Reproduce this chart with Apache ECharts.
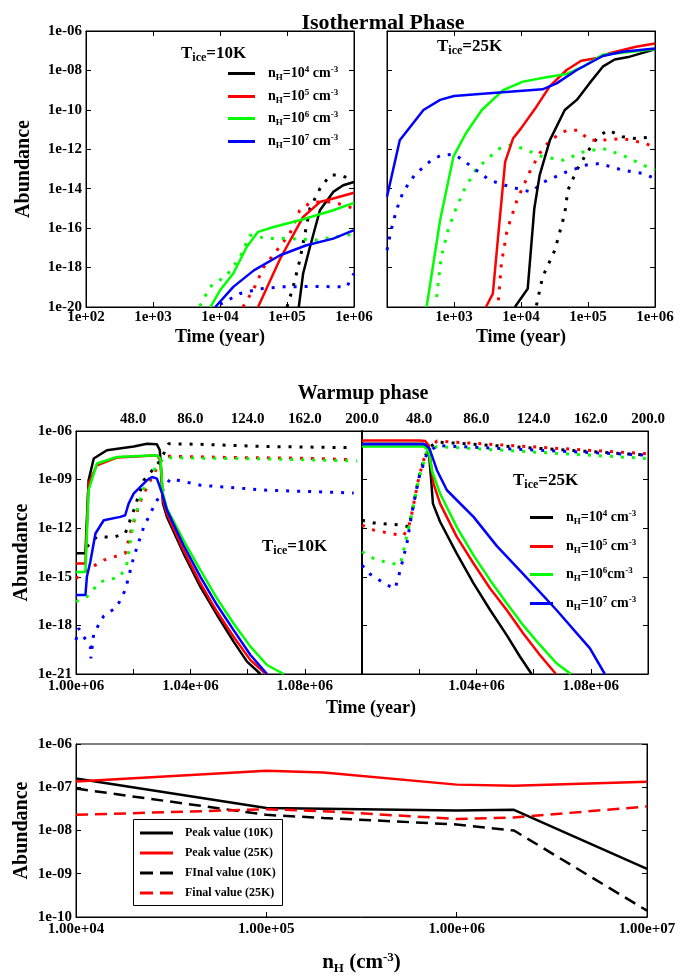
<!DOCTYPE html>
<html>
<head>
<meta charset="utf-8">
<title>Abundance</title>
<script src="https://cdn.jsdelivr.net/npm/echarts@6/dist/echarts.min.js"></script>
<style>
html, body { margin: 0; padding: 0; background: #fff; }
#main { width: 680px; height: 980px; }
</style>
</head>
<body>
<div id="main"></div>
<script type="text/javascript">
"use strict";

// isothermal phase, T_ice = 10K  [time (yr), abundance]
var iso10n4 = [[1.5e5,1e-20],[1.74e5,5e-19],[2.2e5,1.1e-17],[3.1e5,8.1e-16],[4.9e5,6.9e-15],[6.9e5,1.5e-14],[1e6,2.2e-14]];
var iso10n5 = [[3.7e4,1e-20],[7.9e4,2.8e-18],[1.74e5,3.7e-16],[3.1e5,2.1e-15],[4.9e5,3.2e-15],[1e6,6.2e-15]];
var iso10n6 = [[7.2e3,1e-20],[1e4,7e-20],[1.58e4,5e-19],[2.5e4,1.1e-17],[3.7e4,6.5e-17],[6.3e4,1.15e-16],[1.55e5,2.5e-16],[4.9e5,8.1e-16],[1e6,1.9e-15]];
var iso10n7 = [[8.5e3,1e-20],[1.58e4,1.05e-19],[3.2e4,7.2e-19],[7.9e4,4.2e-18],[1.95e5,1.35e-17],[4.9e5,2.95e-17],[1e6,7.9e-17]];
var iso10n4d = [[1e5,1e-20],[1.23e5,1e-19],[1.55e5,2.3e-18],[2.2e5,1e-15],[3.1e5,1e-14],[4.4e5,4.9e-14],[6.2e5,4.9e-14],[1e6,2.7e-14]];
var iso10n5d = [[2.2e4,1e-20],[3.2e4,8.5e-20],[4.5e4,1.07e-18],[7.1e4,7.6e-18],[1.1e5,5.2e-17],[1.55e5,8.1e-16],[2.3e5,2.1e-15],[4.9e5,2.1e-15],[1e6,1e-15]];
var iso10n6d = [[5e3,1.1e-20],[7.1e3,1.05e-19],[1.26e4,4e-19],[2e4,3.5e-18],[2.8e4,4.4e-17],[5e4,3e-17],[1e5,3e-17],[2.75e5,2.5e-17],[1e6,5e-17]];
var iso10n7d = [[1e4,1.35e-20],[2e4,4.8e-20],[4e4,8.5e-20],[8.9e4,1.05e-19],[2.75e5,1.1e-19],[7.8e5,1.05e-19],[1e6,5e-19]];

// isothermal phase, T_ice = 25K
var iso25n4 = [[8.1e3,1e-20],[1.26e4,8.5e-20],[1.58e4,1e-15],[1.9e4,4.9e-14],[2.7e4,2.9e-12],[4.5e4,9.8e-11],[6.8e4,3.2e-10],[1.05e5,2.2e-9],[1.66e5,1.55e-8],[2.5e5,3.6e-8],[4.2e5,5e-8],[1e6,1.17e-7]];
var iso25n5 = [[3e3,1e-20],[3.8e3,4.8e-20],[4.6e3,5.4e-17],[5.8e3,2.3e-13],[7.6e3,3.5e-12],[1e4,1.15e-11],[1.7e4,1.45e-10],[2.7e4,1.6e-9],[4.8e4,1.05e-8],[7.9e4,3.1e-8],[1.32e5,4.1e-8],[2.1e5,7.4e-8],[5.2e5,1.6e-7],[1e6,2.3e-7]];
var iso25n6 = [[390,1e-20],[620,2.5e-16],[980,4.2e-13],[1.5e3,6.3e-12],[2.6e3,9.8e-11],[5.4e3,1e-9],[1.07e4,2.7e-9],[2.4e4,4.5e-9],[4.8e4,6.6e-9],[8.5e4,1.55e-8],[1.66e5,6.2e-8],[1e6,1.17e-7]];
var iso25n7 = [[100,3.9e-15],[155,2.9e-12],[350,9.8e-11],[620,3.2e-10],[1e3,5e-10],[3e3,6.8e-10],[2.1e4,1.1e-9],[3.4e4,2.2e-9],[6.8e4,1.05e-8],[1.66e5,5.4e-8],[3.3e5,8.9e-8],[1e6,1.3e-7]];
var iso25n4d = [[1.7e4,1.2e-20],[2.1e4,3.3e-19],[3.2e4,7.6e-18],[4.5e4,5.5e-16],[5e4,8.3e-15],[6.8e4,8.7e-14],[9.5e4,6.2e-13],[1.4e5,4.3e-12],[2e5,9.3e-12],[3.3e5,4.3e-12],[5.2e5,3.5e-12],[1e6,4.3e-12]];
var iso25n5d = [[4.6e3,2.2e-20],[5.1e3,1.6e-18],[6.2e3,7.8e-17],[8.7e3,2.6e-15],[1.35e4,7.2e-14],[1.9e4,6.2e-13],[2.7e4,2.9e-12],[4.8e4,9.3e-12],[7.1e4,9.3e-12],[1.05e5,2.9e-12],[1.66e5,2.9e-12],[3.3e5,3.5e-12],[7.4e5,1.95e-12],[1e6,1.1e-12]];
var iso25n6d = [[550,3.2e-20],[646,3.5e-18],[813,7.8e-17],[1.07e3,1e-15],[1.45e3,1e-14],[2.1e3,8.7e-14],[3e3,2.8e-13],[4.8e3,1.1e-12],[6.8e3,1.6e-12],[1.07e4,1.1e-12],[2.1e4,4.2e-13],[4.3e4,2.8e-13],[8.5e4,7.4e-13],[1.66e5,1.1e-12],[3.3e5,5e-13],[6.6e5,1.6e-13],[1e6,8.7e-14]];
var iso25n7d = [[100,7.6e-18],[115,7.8e-17],[138,8.1e-16],[174,6.9e-15],[257,4.9e-14],[457,2.8e-13],[646,5e-13],[1.02e3,5.6e-13],[1.7e3,1.6e-13],[3.4e3,2.7e-14],[6.8e3,1.26e-14],[1.4e4,6.9e-15],[2.2e4,2.2e-14],[4.8e4,7.2e-14],[9.5e4,1.6e-13],[1.48e5,1.9e-13],[3.3e5,8.7e-14],[6.6e5,5.9e-14],[1e6,3.3e-14]];

// warmup phase, T_ice = 10K
var wu10n4 = [[1e6,2.8e-14],[1.0033e6,2.8e-14],[1.0044e6,9e-10],[1.0062e6,2e-8],[1.0108e6,6.5e-8],[1.0202e6,1.1e-7],[1.0248e6,1.65e-7],[1.0283e6,1.5e-7],[1.0293e6,6.5e-8],[1.0297e6,6e-9],[1.0304e6,3.3e-11],[1.0318e6,5e-12],[1.0376e6,2.8e-14],[1.0435e6,2.4e-16],[1.0493e6,4.4e-18],[1.0551e6,1e-19],[1.0598e6,5.8e-21],[1.0645e6,1e-21]];
var wu10n5 = [[1e6,6.6e-15],[1.0033e6,6.6e-15],[1.0044e6,5.6e-10],[1.0073e6,7.6e-9],[1.0143e6,2.3e-8],[1.0225e6,2.75e-8],[1.0283e6,3.2e-8],[1.0295e6,1.55e-8],[1.0304e6,5.4e-11],[1.0318e6,7.9e-12],[1.0376e6,4.4e-14],[1.0435e6,3.9e-16],[1.0493e6,6.9e-18],[1.0551e6,2e-19],[1.061e6,7.2e-21],[1.0664e6,1e-21]];
var wu10n6 = [[1e6,2e-15],[1.0033e6,2e-15],[1.0044e6,2.2e-10],[1.0073e6,9.8e-9],[1.0143e6,2.5e-8],[1.0283e6,3.2e-8],[1.0295e6,1.95e-8],[1.0304e6,1.4e-10],[1.0318e6,1.6e-11],[1.0376e6,1.8e-13],[1.0435e6,2.6e-15],[1.0493e6,4.7e-17],[1.0551e6,1.3e-18],[1.061e6,4.9e-20],[1.0668e6,3.6e-21],[1.0726e6,1e-21]];
var wu10n7 = [[1e6,7.4e-17],[1.0033e6,7.4e-17],[1.0038e6,1e-15],[1.005e6,8.3e-15],[1.0068e6,4.7e-13],[1.0097e6,3.1e-12],[1.0155e6,5e-12],[1.0172e6,6.3e-12],[1.0184e6,3.3e-11],[1.0202e6,1.4e-10],[1.0248e6,9.1e-10],[1.0266e6,1.45e-9],[1.0283e6,1.15e-9],[1.0301e6,1.4e-10],[1.0318e6,1.3e-11],[1.0376e6,8.9e-14],[1.0435e6,1e-15],[1.0493e6,1.8e-17],[1.0551e6,5.1e-19],[1.061e6,1.5e-20],[1.0668e6,1e-21]];
var wu10n4d = [[1.0038e6,7.1e-14],[1.0073e6,3e-13],[1.0132e6,2.8e-13],[1.0172e6,4.7e-13],[1.0202e6,1.3e-11],[1.0237e6,9.1e-10],[1.0277e6,6e-9],[1.0295e6,1.55e-8],[1.0324e6,1.65e-7],[1.0435e6,1.5e-7],[1.0668e6,1.1e-7],[1.0971e6,9.3e-8]];
var wu10n5d = [[1e6,7.9e-16],[1.0038e6,2.6e-15],[1.0097e6,1.07e-14],[1.0172e6,2.8e-14],[1.0196e6,1.2e-12],[1.0231e6,8.5e-11],[1.0272e6,2.3e-9],[1.0307e6,2.75e-8],[1.0341e6,2.75e-8],[1.0551e6,2.3e-8],[1.0784e6,2.1e-8],[1.0971e6,1.7e-8]];
var wu10n6d = [[1e6,2.9e-17],[1.0038e6,5.9e-17],[1.0085e6,4.9e-16],[1.0155e6,1e-15],[1.0178e6,6.6e-15],[1.0202e6,3.1e-12],[1.0237e6,2.8e-10],[1.0272e6,3.8e-9],[1.0307e6,2.3e-8],[1.0435e6,2.1e-8],[1.0668e6,1.9e-8],[1.0983e6,1.4e-8]];
var wu10n7d = [[1e6,1.26e-19],[1.0009e6,6.6e-19],[1.0027e6,2e-19],[1.005e6,4.9e-20],[1.0052e6,9.3e-21],[1.0062e6,3.2e-19],[1.0097e6,3.8e-18],[1.0143e6,1.4e-17],[1.0172e6,1.5e-16],[1.0202e6,1.7e-14],[1.0237e6,1.2e-12],[1.0277e6,3.3e-11],[1.0307e6,2.8e-10],[1.033e6,1.15e-9],[1.0435e6,4.5e-10],[1.0668e6,2.2e-10],[1.0971e6,1.5e-10]];

// warmup phase, T_ice = 25K
var wu25n4 = [[1e6,1.65e-7],[1.0215e6,1.65e-7],[1.0233e6,6.5e-8],[1.0241e6,1.45e-9],[1.0248e6,3.3e-11],[1.0273e6,2.5e-12],[1.0331e6,2.8e-14],[1.039e6,3.9e-16],[1.0448e6,8.9e-18],[1.0506e6,2.5e-19],[1.0552e6,1.2e-20],[1.0593e6,1e-21]];
var wu25n5 = [[1e6,2.6e-7],[1.0203e6,2.6e-7],[1.0221e6,2.4e-7],[1.0233e6,1.3e-7],[1.0238e6,2.5e-8],[1.025e6,5.6e-10],[1.0273e6,3.3e-11],[1.0331e6,3e-13],[1.039e6,6.6e-15],[1.0448e6,1.9e-16],[1.0506e6,8.9e-18],[1.0564e6,3.2e-19],[1.0622e6,1.5e-20],[1.0678e6,1e-21]];
var wu25n6 = [[1e6,1.1e-7],[1.0215e6,1.1e-7],[1.0233e6,6.5e-8],[1.0244e6,3.8e-9],[1.0273e6,1.4e-10],[1.0331e6,1.2e-12],[1.039e6,2.1e-14],[1.0448e6,6.2e-16],[1.0506e6,2.3e-17],[1.0564e6,1e-18],[1.0622e6,6.2e-20],[1.068e6,4.6e-21],[1.073e6,1e-21]];
var wu25n7 = [[1e6,1.5e-7],[1.0221e6,1.5e-7],[1.0236e6,8.1e-8],[1.0262e6,3.8e-9],[1.0297e6,2.2e-10],[1.039e6,5e-12],[1.0471e6,8.1e-14],[1.0564e6,1.45e-15],[1.068e6,8.9e-18],[1.0797e6,3.8e-20],[1.0849e6,1e-21]];
var wu25n4d = [[1e6,3.1e-12],[1.0041e6,2.1e-12],[1.0145e6,1.55e-12],[1.0163e6,1.2e-12],[1.0174e6,7.9e-12],[1.0198e6,1.15e-9],[1.0215e6,1.55e-8],[1.0233e6,9.3e-8],[1.0262e6,2.1e-7],[1.1e6,3.2e-8]];
var wu25n5d = [[1e6,1.55e-12],[1.0041e6,7.6e-13],[1.0145e6,3.4e-13],[1.0163e6,1.2e-12],[1.0174e6,7.9e-12],[1.0198e6,1.15e-9],[1.0215e6,1.55e-8],[1.0233e6,8.1e-8],[1.0262e6,2.4e-7],[1.1e6,3.9e-8]];
var wu25n6d = [[1e6,3.5e-14],[1.0041e6,1.35e-14],[1.0099e6,6.6e-15],[1.0134e6,6e-15],[1.0151e6,1.15e-13],[1.0174e6,7.9e-12],[1.0198e6,1.15e-9],[1.0227e6,5.1e-8],[1.0262e6,1.1e-7],[1.1e6,2e-8]];
var wu25n7d = [[1e6,5.2e-15],[1.0029e6,1.45e-15],[1.0087e6,3.1e-16],[1.0116e6,1.9e-16],[1.0134e6,2.6e-15],[1.0157e6,1.15e-13],[1.0174e6,7.9e-12],[1.0198e6,1.15e-9],[1.0227e6,4e-8],[1.0262e6,1.26e-7],[1.1e6,3.2e-8]];

// peak / final values against density
var nH = [1e4, 1e5, 2e5, 1e6, 2e6, 1e7];
var peak10 = [1.6e-7, 3.3e-8, 3.2e-8, 2.9e-8, 3e-8, 1.3e-9];
var peak25 = [1.36e-7, 2.4e-7, 2.2e-7, 1.15e-7, 1.08e-7, 1.34e-7];
var final10 = [9.3e-8, 2.3e-8, 1.95e-8, 1.38e-8, 1e-8, 1.4e-10];
var final25 = [2.3e-8, 3.1e-8, 2.8e-8, 1.85e-8, 2e-8, 3.6e-8];

var tempTicks = [10, 48, 86, 124, 162, 200];
// warmup y range as powers of ten (1e-21 .. 1e-06, a label every 3 decades)
var warmExp = [-21, -6];

var FONT = 'Liberation Serif';
var BLACK = '#000000', RED = '#ff0000', GREEN = '#00ff00', BLUE = '#0000ff';
var ICON_SOLID = 'path://M0,0H33V3H0Z';
var ICON_DASH = 'path://M0,0H13V3H0Z M20,0H33V3H20Z';

function pad(e) {
	e = Math.abs(e);
	return (e < 10 ? '0' : '') + e;
}
function expOf(v) {
	return Math.round(Math.log(v) / Math.LN10);
}
function sci(v) {
	if (!(v > 0)) return '';
	var e = expOf(v);
	return '1e' + (e < 0 ? '-' : '+') + pad(e);
}
function sciExp(e) {
	return '1e' + (e < 0 ? '-' : '+') + pad(Math.round(e));
}
function sci2(v) {
	if (!(v > 0)) return '';
	return '1.00e+' + pad(expOf(v));
}
function mega(v) {
	var k = Math.round((v - 1e6) / 2e4);
	if (k % 2) return '';
	return (v / 1e6).toFixed(2) + 'e+06';
}
function temp(v) {
	return tempTicks[Math.round(v)].toFixed(1);
}

var labelFont = { fontFamily: FONT, fontWeight: 'bold', fontSize: 15, color: '#000' };
var nameFont = { fontFamily: FONT, fontWeight: 'bold', fontSize: 20, color: '#000' };
var blackLine = { show: true, lineStyle: { color: '#000', width: 1 } };
var tickIn = { show: true, inside: true, length: 5, lineStyle: { color: '#000', width: 1 } };

function axis(o) {
	var a = {
		gridIndex: o.grid,
		type: o.type || 'log',
		logBase: 10,
		min: o.min,
		max: o.max,
		position: o.position,
		axisLine: o.axisLine || blackLine,
		axisTick: o.tick === false ? { show: false } : tickIn,
		splitLine: { show: false },
		axisLabel: o.format ? Object.assign({ formatter: o.format, margin: o.margin || 4,
			showMinLabel: o.hideMin ? false : true }, labelFont) : { show: false }
	};
	if (o.interval) a.interval = o.interval;
	if (o.name) {
		a.name = o.name;
		a.nameLocation = 'middle';
		a.nameGap = o.nameGap;
		a.nameMoveOverlap = false;
		a.nameTextStyle = o.nameStyle || nameFont;
	}
	return a;
}

function box(left, top, width, height) {
	return { left: left, top: top, width: width, height: height, containLabel: false,
		outerBoundsMode: 'none', show: true, borderColor: '#000', borderWidth: 1 };
}

function line(name, data, color, dotted, xi, yi) {
	return {
		type: 'line',
		name: name,
		data: data,
		xAxisIndex: xi,
		yAxisIndex: yi,
		symbol: 'none',
		color: color,
		lineStyle: { color: color, width: dotted ? 3 : 2.5, type: dotted ? [3, 8] : 'solid' },
		z: dotted ? 2 : 3
	};
}

function pair(ys) {
	return nH.map(function(x, i) { return [x, ys[i]]; });
}

var richBase = {
	b: { fontFamily: FONT, fontWeight: 'bold', fontSize: 14, color: '#000' },
	s: { fontFamily: FONT, fontWeight: 'bold', fontSize: 9, color: '#000', padding: [8, 0, 0, 0] },
	p: { fontFamily: FONT, fontWeight: 'bold', fontSize: 9, color: '#000', padding: [0, 0, 8, 0] }
};
var ticeRich = {
	t: { fontFamily: FONT, fontWeight: 'bold', fontSize: 17, color: '#000' },
	s: { fontFamily: FONT, fontWeight: 'bold', fontSize: 12, color: '#000', padding: [9, 0, 0, 0] }
};

function densityText(name, tight) {
	var p = name.slice(1);
	var gap = (tight && p === '6') ? '{b|cm}' : '{b| cm}';
	return '{b|n}{s|H}{b|=10}{p|' + p + '}' + gap + '{p|-3}';
}

function legendRows(names, left, rows, width, tight) {
	return names.map(function(n, i) {
		return {
			left: left,
			top: rows[i] - 8,
			orient: 'vertical',
			padding: 0,
			icon: 'rect',
			itemWidth: width,
			itemHeight: 3,
			data: [n],
			selectedMode: false,
			formatter: function(name) { return densityText(name, tight); },
			textStyle: { padding: [0, 0, 0, 8], rich: richBase }
		};
	});
}

var dens = ['n4', 'n5', 'n6', 'n7'];
var noLine = { show: false };
var WARM_MIN = Math.pow(10, warmExp[0]), WARM_MAX = Math.pow(10, warmExp[1]);

var chart = echarts.init(document.getElementById('main'));
var option = {
	animation: false,
	backgroundColor: '#fff',
	title: [
		{ text: 'Isothermal Phase', left: 378, top: 7, textAlign: 'center',
			textStyle: { fontFamily: FONT, fontWeight: 'bold', fontSize: 22, color: '#000' } },
		{ text: 'Warmup phase', left: 358, top: 379, textAlign: 'center',
			textStyle: { fontFamily: FONT, fontWeight: 'bold', fontSize: 20, color: '#000' } },
		{ text: 'Time (year)', left: 366, top: 694, textAlign: 'center',
			textStyle: { fontFamily: FONT, fontWeight: 'bold', fontSize: 18, color: '#000' } },
		{ text: '{t|T}{s|ice}{t|=10K}', left: 176, top: 38, textStyle: { rich: ticeRich } },
		{ text: '{t|T}{s|ice}{t|=25K}', left: 432, top: 31, textStyle: { rich: ticeRich } },
		{ text: '{t|T}{s|ice}{t|=10K}', left: 257, top: 531, textStyle: { rich: ticeRich } },
		{ text: '{t|T}{s|ice}{t|=25K}', left: 508, top: 465, textStyle: { rich: ticeRich } }
	],
	grid: [
		box(86, 31, 268, 276),
		box(387, 31, 268, 276),
		box(76, 431, 286, 243),
		box(362, 431, 286, 243),
		box(76, 744, 571, 173)
	],
	xAxis: [
		axis({ grid: 0, min: 1e2, max: 1e6, format: sci, margin: 3, name: 'Time (year)', nameGap: 21,
			nameStyle: { fontFamily: FONT, fontWeight: 'bold', fontSize: 18, color: '#000' } }),
		axis({ grid: 0, min: 1e2, max: 1e6, position: 'top' }),
		axis({ grid: 1, min: 1e2, max: 1e6, format: sci, margin: 3, hideMin: true, name: 'Time (year)', nameGap: 21,
			nameStyle: { fontFamily: FONT, fontWeight: 'bold', fontSize: 18, color: '#000' } }),
		axis({ grid: 1, min: 1e2, max: 1e6, position: 'top' }),
		axis({ grid: 2, type: 'value', min: 1e6, max: 1.1e6, interval: 2e4, format: mega, margin: 5 }),
		axis({ grid: 2, type: 'value', min: 0, max: 5, interval: 1, position: 'top', format: temp, hideMin: true, tick: false }),
		axis({ grid: 3, type: 'value', min: 1e6, max: 1.1e6, interval: 2e4, format: mega, margin: 5, hideMin: true }),
		axis({ grid: 3, type: 'value', min: 0, max: 5, interval: 1, position: 'top', format: temp, hideMin: true, tick: false }),
		axis({ grid: 4, min: 1e4, max: 1e7, format: sci2, margin: 5, name: '{b|n}{s|H}{b| (cm}{p|-3}{b|)}', nameGap: 34,
			nameStyle: { rich: {
				b: { fontFamily: FONT, fontWeight: 'bold', fontSize: 21, color: '#000' },
				s: { fontFamily: FONT, fontWeight: 'bold', fontSize: 13, color: '#000', padding: [11, 0, 0, 0] },
				p: { fontFamily: FONT, fontWeight: 'bold', fontSize: 13, color: '#000', padding: [0, 0, 11, 0] }
			} } })
	],
	yAxis: [
		axis({ grid: 0, min: 1e-20, max: 1e-6, interval: 2, format: sci, name: 'Abundance', nameGap: 52 }),
		axis({ grid: 0, min: 1e-20, max: 1e-6, interval: 2, position: 'right' }),
		axis({ grid: 1, min: 1e-20, max: 1e-6, interval: 2 }),
		axis({ grid: 1, min: 1e-20, max: 1e-6, interval: 2, position: 'right' }),
		// warmup panels: log axis carries the data, an exponent axis carries ticks and labels
		axis({ grid: 2, min: WARM_MIN, max: WARM_MAX, position: 'left', tick: false, axisLine: noLine }),
		axis({ grid: 2, type: 'value', min: warmExp[0], max: warmExp[1], interval: 3, position: 'left',
			format: sciExp, name: 'Abundance', nameGap: 44 }),
		axis({ grid: 3, min: WARM_MIN, max: WARM_MAX, position: 'left', tick: false, axisLine: noLine }),
		axis({ grid: 3, type: 'value', min: warmExp[0], max: warmExp[1], interval: 3, position: 'left',
			axisLine: { show: true, lineStyle: { color: '#000', width: 2 } } }),
		axis({ grid: 3, type: 'value', min: warmExp[0], max: warmExp[1], interval: 3, position: 'right' }),
		axis({ grid: 4, min: 1e-10, max: 1e-6, format: sci, name: 'Abundance', nameGap: 44 }),
		axis({ grid: 4, min: 1e-10, max: 1e-6, position: 'right' })
	],
	legend: legendRows(dens, 228, [73, 96, 118, 141], 27, false)
		.concat(legendRows(dens, 530, [517, 546, 574, 603], 23, true))
		.concat([{
			left: 140,
			top: 826,
			orient: 'vertical',
			padding: 0,
			itemWidth: 33,
			itemHeight: 3,
			itemGap: 6,
			selectedMode: false,
			data: [
				{ name: 'Peak value (10K)', icon: ICON_SOLID },
				{ name: 'Peak value (25K)', icon: ICON_SOLID },
				{ name: 'FInal value (10K)', icon: ICON_DASH },
				{ name: 'Final value (25K)', icon: ICON_DASH }
			],
			textStyle: { fontFamily: FONT, fontWeight: 'bold', fontSize: 12, lineHeight: 14, color: '#000', padding: [0, 0, 0, 7] }
		}]),
	graphic: [{
		type: 'rect',
		shape: { x: 133.5, y: 819.5, width: 149, height: 86 },
		style: { fill: '#fff', stroke: '#000', lineWidth: 1 },
		z: 4
	}],
	series: [
		line('n4 dot', iso10n4d, BLACK, true, 0, 0),
		line('n5 dot', iso10n5d, RED, true, 0, 0),
		line('n6 dot', iso10n6d, GREEN, true, 0, 0),
		line('n7 dot', iso10n7d, BLUE, true, 0, 0),
		line('n4', iso10n4, BLACK, false, 0, 0),
		line('n5', iso10n5, RED, false, 0, 0),
		line('n6', iso10n6, GREEN, false, 0, 0),
		line('n7', iso10n7, BLUE, false, 0, 0),

		line('n4 dot', iso25n4d, BLACK, true, 2, 2),
		line('n5 dot', iso25n5d, RED, true, 2, 2),
		line('n6 dot', iso25n6d, GREEN, true, 2, 2),
		line('n7 dot', iso25n7d, BLUE, true, 2, 2),
		line('n4', iso25n4, BLACK, false, 2, 2),
		line('n5', iso25n5, RED, false, 2, 2),
		line('n6', iso25n6, GREEN, false, 2, 2),
		line('n7', iso25n7, BLUE, false, 2, 2),

		line('n4 dot', wu10n4d, BLACK, true, 4, 4),
		line('n5 dot', wu10n5d, RED, true, 4, 4),
		line('n6 dot', wu10n6d, GREEN, true, 4, 4),
		line('n7 dot', wu10n7d, BLUE, true, 4, 4),
		line('n4', wu10n4, BLACK, false, 4, 4),
		line('n5', wu10n5, RED, false, 4, 4),
		line('n6', wu10n6, GREEN, false, 4, 4),
		line('n7', wu10n7, BLUE, false, 4, 4),

		line('n4 dot', wu25n4d, BLACK, true, 6, 6),
		line('n5 dot', wu25n5d, RED, true, 6, 6),
		line('n6 dot', wu25n6d, GREEN, true, 6, 6),
		line('n7 dot', wu25n7d, BLUE, true, 6, 6),
		line('n4', wu25n4, BLACK, false, 6, 6),
		line('n5', wu25n5, RED, false, 6, 6),
		line('n6', wu25n6, GREEN, false, 6, 6),
		line('n7', wu25n7, BLUE, false, 6, 6),

		{ type: 'line', name: 'Peak value (10K)', data: pair(peak10), xAxisIndex: 8, yAxisIndex: 9, symbol: 'none',
			color: BLACK, lineStyle: { color: BLACK, width: 2.5 } },
		{ type: 'line', name: 'Peak value (25K)', data: pair(peak25), xAxisIndex: 8, yAxisIndex: 9, symbol: 'none',
			color: RED, lineStyle: { color: RED, width: 2.5 } },
		{ type: 'line', name: 'FInal value (10K)', data: pair(final10), xAxisIndex: 8, yAxisIndex: 9, symbol: 'none',
			color: BLACK, lineStyle: { color: BLACK, width: 2.5, type: [12, 7] } },
		{ type: 'line', name: 'Final value (25K)', data: pair(final25), xAxisIndex: 8, yAxisIndex: 9, symbol: 'none',
			color: RED, lineStyle: { color: RED, width: 2.5, type: [12, 7] } }
	]
};
chart.setOption(option);
</script>
</body>
</html>
